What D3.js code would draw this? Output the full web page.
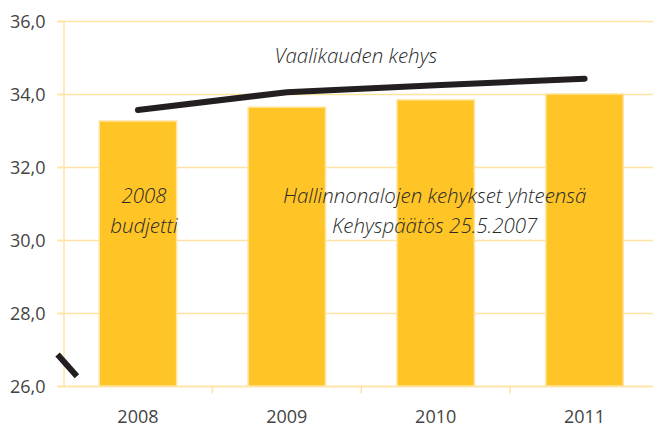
<!DOCTYPE HTML>
<html lang="fi">
<head>
    <meta charset="UTF-8">
    <title>Kehykset</title>
    <script src="https://cdn.jsdelivr.net/npm/d3@7"></script>
    <style type="text/css">
        html, body { margin: 0; padding: 0; background: #fff; }
        svg { display: block; }
        .tick text { font: 18px "Open Sans", sans-serif; fill: #444; }
        .note { font: italic 300 20.5px "Open Sans", sans-serif; fill: #2a2a2a; }
    </style>
</head>
<body>
<svg width="653" height="427"></svg>
<script type="text/javascript">
    // data
    var years = ["2008", "2009", "2010", "2011"];
    var budget = [33.26, 33.64, 33.84, 34.0];      // bars
    var frame = [33.56, 34.05, 34.24, 34.42];      // Vaalikauden kehys
    var yTicks = [26, 28, 30, 32, 34, 36];

    (function () {
        var svg = d3.select("svg");
        var left = 63.5, right = 659, top = 21, bottom = 386;
        var grid = "#ffe3a3";

        var x = d3.scaleBand().domain(years).range([left, right]).paddingInner(0.48).paddingOuter(0.24);
        var xb = d3.scaleBand().domain(years).range([left, right]);
        var y = d3.scaleLinear().domain([26, 36]).range([bottom, top]);
        var fmt = function (d) { return d3.format(".1f")(d).replace(".", ","); };

        // gridlines
        svg.append("g").selectAll("line").data(yTicks).enter().append("line")
            .attr("x1", left - 6).attr("x2", 653)
            .attr("y1", function (d) { return Math.round(y(d)) + 0.5; })
            .attr("y2", function (d) { return Math.round(y(d)) + 0.5; })
            .attr("stroke", grid).attr("stroke-width", 1.5);

        // y axis
        var ya = svg.append("g").attr("transform", "translate(" + left + ",0)")
            .call(d3.axisLeft(y).tickValues(yTicks).tickFormat(fmt).tickSize(6).tickPadding(12));
        ya.select(".domain").attr("stroke", grid).attr("stroke-width", 1.5);
        ya.selectAll(".tick line").attr("stroke", grid).attr("stroke-width", 1.5);
        ya.selectAll(".tick text").attr("dy", "0.36em");

        // x axis with ticks between categories
        var xa = svg.append("g").attr("transform", "translate(0," + (Math.round(y(26)) + 0.5) + ")");
        xa.append("line").attr("x1", left).attr("x2", 653).attr("stroke", grid).attr("stroke-width", 1.5);
        xa.selectAll("line.t").data(years).enter().append("line").attr("class", "t")
            .attr("x1", function (d) { return xb(d) + xb.bandwidth(); })
            .attr("x2", function (d) { return xb(d) + xb.bandwidth(); })
            .attr("y1", 0).attr("y2", 7).attr("stroke", grid).attr("stroke-width", 1.5);
        xa.selectAll("text").data(years).enter().append("text")
            .attr("x", function (d) { return xb(d) + xb.bandwidth() / 2; })
            .attr("y", 36).attr("text-anchor", "middle")
            .style("font", "18px 'Open Sans', sans-serif").style("fill", "#444")
            .text(function (d) { return d; });

        // bars
        svg.append("g").selectAll("rect").data(budget).enter().append("rect")
            .attr("x", function (d, i) { return x(years[i]); })
            .attr("width", x.bandwidth())
            .attr("y", function (d) { return y(d); })
            .attr("height", function (d) { return y(26) - y(d); })
            .attr("fill", "#ffc425").attr("stroke", "#ffe5a0").attr("stroke-width", 1.5);

        // line
        var line = d3.line()
            .x(function (d, i) { return xb(years[i]) + xb.bandwidth() / 2; })
            .y(function (d) { return y(d); });
        svg.append("path").datum(frame).attr("d", line)
            .attr("fill", "none").attr("stroke", "#231f20").attr("stroke-width", 6)
            .attr("stroke-linecap", "round").attr("stroke-linejoin", "round");

        // little break mark at the axis bottom
        var brk = [[-0.04, 26.86], [0.09, 26.27]];
        svg.append("path")
            .attr("d", d3.line()
                .x(function (d) { return left + d[0] * xb.bandwidth(); })
                .y(function (d) { return y(d[1]); })(brk))
            .attr("stroke", "#231f20").attr("stroke-width", 6).attr("fill", "none");

        // annotations
        svg.append("text").attr("class", "note")
            .attr("x", xb("2009") + xb.bandwidth() / 2 + 69).attr("y", y(34.85))
            .attr("text-anchor", "middle").text("Vaalikauden kehys");

        var n1 = svg.append("text").attr("class", "note").attr("text-anchor", "middle");
        n1.append("tspan").attr("x", xb("2008") + xb.bandwidth() / 2 + 6).attr("y", 203).text("2008");
        n1.append("tspan").attr("x", xb("2008") + xb.bandwidth() / 2 + 6).attr("y", 233).text("budjetti");

        var n2 = svg.append("text").attr("class", "note").attr("text-anchor", "middle");
        n2.append("tspan").attr("x", xb("2010") + xb.bandwidth() / 2 - 1).attr("y", 203).text("Hallinnonalojen kehykset yhteensä");
        n2.append("tspan").attr("x", xb("2010") + xb.bandwidth() / 2 - 1).attr("y", 233).text("Kehyspäätös 25.5.2007");
    })();
</script>
</body>
</html>
